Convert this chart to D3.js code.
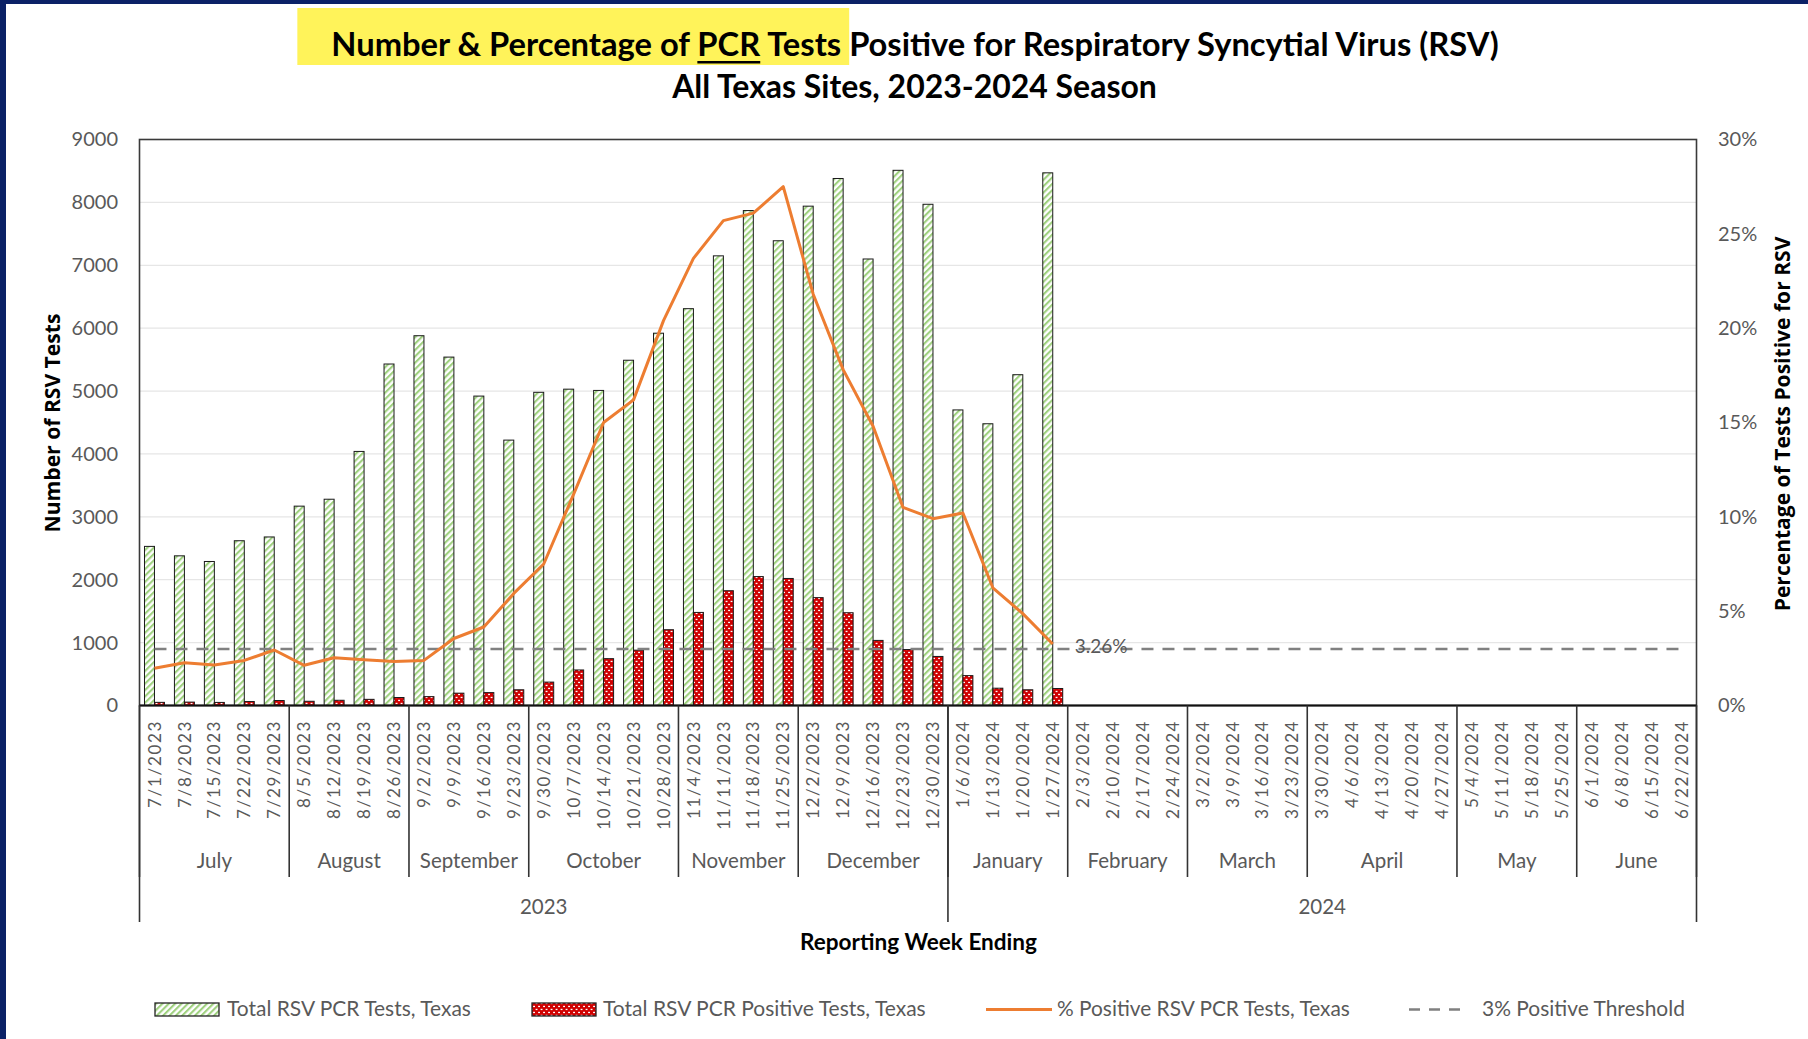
<!DOCTYPE html>
<html><head><meta charset="utf-8">
<script src="https://cdn.jsdelivr.net/npm/d3@7"></script>
<style>html,body{margin:0;padding:0;background:#fff;overflow:hidden;} svg{display:block;}</style>
</head><body>
<svg id="chart" width="1808" height="1039"></svg>
<script>
// ---------------- DATA ----------------
const weekLabels = [
  "7/1/2023","7/8/2023","7/15/2023","7/22/2023","7/29/2023",
  "8/5/2023","8/12/2023","8/19/2023","8/26/2023",
  "9/2/2023","9/9/2023","9/16/2023","9/23/2023",
  "9/30/2023","10/7/2023","10/14/2023","10/21/2023","10/28/2023",
  "11/4/2023","11/11/2023","11/18/2023","11/25/2023",
  "12/2/2023","12/9/2023","12/16/2023","12/23/2023","12/30/2023",
  "1/6/2024","1/13/2024","1/20/2024","1/27/2024",
  "2/3/2024","2/10/2024","2/17/2024","2/24/2024",
  "3/2/2024","3/9/2024","3/16/2024","3/23/2024",
  "3/30/2024","4/6/2024","4/13/2024","4/20/2024","4/27/2024",
  "5/4/2024","5/11/2024","5/18/2024","5/25/2024",
  "6/1/2024","6/8/2024","6/15/2024","6/22/2024"
];
const totalTests = [
  2530,2380,2290,2620,2680,
  3170,3280,4040,5430,
  5880,5540,4920,4220,
  4980,5030,5010,5490,5920,
  6310,7150,7870,7390,
  7940,8380,7100,8510,7970,
  4700,4480,5260,8470
];
const positiveTests = [
  50,54,49,63,79,
  67,83,98,127,
  141,196,205,250,
  372,565,745,880,1205,
  1480,1825,2050,2020,
  1715,1475,1035,890,780,
  475,275,250,270
];
const percentPositive = [
  1.97,2.27,2.15,2.39,2.94,
  2.13,2.53,2.43,2.33,
  2.39,3.55,4.16,5.94,
  7.5,11.2,15.0,16.2,20.4,
  23.7,25.7,26.1,27.5,
  21.8,17.8,14.8,10.5,9.9,
  10.2,6.24,4.87,3.26
];
const thresholdPct = 3;
const monthNames = ["July","August","September","October","November","December",
                    "January","February","March","April","May","June"];
const monthWeeks = [5,4,4,5,4,5,4,4,4,5,4,4];
const yearNames = ["2023","2024"];
const yearWeeks = [27,25];
const leftTicks = [0,1000,2000,3000,4000,5000,6000,7000,8000,9000];
const rightTicks = [0,5,10,15,20,25,30];
const legendLabels = ["Total RSV PCR Tests, Texas","Total RSV PCR Positive Tests, Texas",
                      "% Positive RSV PCR Tests, Texas","3% Positive Threshold"];
const titleLine1 = "Number & Percentage of PCR Tests Positive for Respiratory Syncytial Virus (RSV)";
const titleLine2 = "All Texas Sites, 2023-2024 Season";

// ---------------- LAYOUT ----------------
const svg = d3.select("#chart");
const L = 139.5, R = 1696.5, T = 139.5, B = 705.5;
const FONT = "Lato, 'Open Sans', sans-serif";
const GRAY = "#595959";

function fit(sel, width){
  const w = sel.node().getComputedTextLength();
  const fs = parseFloat(sel.attr("font-size"));
  sel.attr("font-size", fs * width / w);
  return sel;
}

// page frame (navy)
svg.append("rect").attr("x",0).attr("y",0).attr("width",1808).attr("height",1039).attr("fill","#fff");
svg.append("rect").attr("x",0).attr("y",0).attr("width",1808).attr("height",4).attr("fill","#0b2166");
svg.append("rect").attr("x",0).attr("y",0).attr("width",6).attr("height",1039).attr("fill","#0b2166");

// patterns
const defs = svg.append("defs");
const hatch = defs.append("pattern").attr("id","hatch").attr("patternUnits","userSpaceOnUse")
  .attr("width",4.5).attr("height",4.5).attr("patternTransform","rotate(45)");
hatch.append("rect").attr("width",4.5).attr("height",4.5).attr("fill","#ffffff");
hatch.append("rect").attr("x",0).attr("width",2.1).attr("height",4.5).attr("fill","#9fd17f");

const dots = defs.append("pattern").attr("id","dots").attr("patternUnits","userSpaceOnUse")
  .attr("width",5).attr("height",6);
dots.append("rect").attr("width",5).attr("height",6).attr("fill","#d00000");
dots.append("rect").attr("x",0.6).attr("y",0.8).attr("width",1.9).attr("height",1.3).attr("fill","#fff");
dots.append("rect").attr("x",3.1).attr("y",3.8).attr("width",1.9).attr("height",1.3).attr("fill","#fff");

// scales
const x = d3.scaleBand().domain(weekLabels).range([L, R]).paddingInner(0).paddingOuter(0);
const xs = d3.scaleBand().domain(["total","pos"]).range([0, x.bandwidth()]).paddingInner(0).paddingOuter(0.5);
const yL = d3.scaleLinear().domain([0, 9000]).range([B, T]);
const yR = d3.scaleLinear().domain([0, 30]).range([B, T]);
const cx = d => x(d) + x.bandwidth()/2;

// title
const titleG = svg.append("g");
const hl = titleG.append("rect").attr("fill","#fff35a");
const t1 = titleG.append("text").attr("x",915).attr("y",56).attr("text-anchor","middle")
  .attr("font-family",FONT).attr("font-weight",700).attr("font-size",30).attr("fill","#000").text(titleLine1);
fit(t1, 1168);
const t2 = titleG.append("text").attr("x",914.5).attr("y",98).attr("text-anchor","middle")
  .attr("font-family",FONT).attr("font-weight",700).attr("font-size",30).attr("fill","#000").text(titleLine2);
fit(t2, 485);
{
  const n = t1.node();
  const e0 = n.getExtentOfChar(0);
  const eT = n.getExtentOfChar(31);
  hl.attr("x", e0.x - 34).attr("y", 8).attr("width", (eT.x + eT.width + 8) - (e0.x - 34)).attr("height", 57);
  const p0 = n.getExtentOfChar(23), p2 = n.getExtentOfChar(25);
  titleG.append("rect").attr("x", p0.x).attr("y", 61).attr("width", p2.x + p2.width - p0.x).attr("height", 2.5).attr("fill","#000");
}

// gridlines
svg.append("g").selectAll("line").data(leftTicks.filter(d => d > 0 && d < 9000)).join("line")
  .attr("x1",L).attr("x2",R).attr("y1",d => yL(d)).attr("y2",d => yL(d))
  .attr("stroke","#e6e6e6").attr("stroke-width",1.2);

// left axis
const axL = svg.append("g").attr("transform",`translate(${L},0)`)
  .call(d3.axisLeft(yL).tickValues(leftTicks).tickSize(0).tickPadding(21.5).tickFormat(d3.format("d")));
axL.select(".domain").remove();
axL.selectAll("text").attr("font-family",FONT).attr("font-size",20).attr("fill",GRAY);

// right axis
const axR = svg.append("g").attr("transform",`translate(${R},0)`)
  .call(d3.axisRight(yR).tickValues(rightTicks).tickSize(0).tickPadding(21.5).tickFormat(d => d + "%"));
axR.select(".domain").remove();
axR.selectAll("text").attr("font-family",FONT).attr("font-size",20).attr("fill",GRAY);

// bars
const barData = totalTests.map((v,i) => ({week: weekLabels[i], total: v, pos: positiveTests[i]}));
svg.append("g").selectAll("rect").data(barData).join("rect")
  .attr("x", d => x(d.week) + xs("total")).attr("width", xs.bandwidth())
  .attr("y", d => yL(d.total)).attr("height", d => B - yL(d.total))
  .attr("fill","url(#hatch)").attr("stroke","#1a1a1a").attr("stroke-width",1);
svg.append("g").selectAll("rect").data(barData).join("rect")
  .attr("x", d => x(d.week) + xs("pos")).attr("width", xs.bandwidth())
  .attr("y", d => yL(d.pos)).attr("height", d => B - yL(d.pos))
  .attr("fill","url(#dots)").attr("stroke","#1a1a1a").attr("stroke-width",1);

// threshold dashed line
const thrLine = d3.line().x(d => cx(d)).y(() => yR(thresholdPct));
svg.append("path").datum(weekLabels).attr("d", thrLine)
  .attr("fill","none").attr("stroke","#808080").attr("stroke-width",2.5).attr("stroke-dasharray","12,9");

// percent line
const pctData = percentPositive.map((v,i) => ({week: weekLabels[i], v}));
svg.append("path").datum(pctData)
  .attr("d", d3.line().x(d => cx(d.week)).y(d => yR(d.v)))
  .attr("fill","none").attr("stroke","#ed7d31").attr("stroke-width",3).attr("stroke-linejoin","round");

// last point label
const last = pctData[pctData.length-1];
svg.append("text").attr("x", cx(last.week) + 22).attr("y", yR(last.v) + 1.5)
  .attr("dominant-baseline","central").attr("font-family",FONT).attr("font-size",19).attr("fill",GRAY)
  .text(last.v.toFixed(2) + "%");

// plot frame
svg.append("rect").attr("x",L).attr("y",T).attr("width",R-L).attr("height",B-T)
  .attr("fill","none").attr("stroke","#3a3a3a").attr("stroke-width",1.6);
svg.append("line").attr("x1",L).attr("x2",R).attr("y1",B).attr("y2",B).attr("stroke","#111").attr("stroke-width",2);

// bottom axis (week labels)
const axB = svg.append("g").attr("transform",`translate(0,${B})`)
  .call(d3.axisBottom(x).tickSize(0).tickPadding(0));
axB.select(".domain").remove();
axB.selectAll("text")
  .attr("transform","rotate(-90)")
  .attr("x",-16).attr("y",0).attr("dy","0.36em")
  .attr("text-anchor","end")
  .attr("font-family",FONT).attr("font-size",17).attr("fill",GRAY)
  .attr("textLength", d => 10.82 * d.length).attr("lengthAdjust","spacing");

// month & year separators / labels
const step = x.step();
const monthBounds = [0]; monthWeeks.forEach(n => monthBounds.push(monthBounds[monthBounds.length-1] + n));
const yearBounds = [0]; yearWeeks.forEach(n => yearBounds.push(yearBounds[yearBounds.length-1] + n));
const sepG = svg.append("g").attr("stroke","#333").attr("stroke-width",1.6);
sepG.selectAll("line.m").data(monthBounds).join("line").attr("class","m")
  .attr("x1", d => L + d*step).attr("x2", d => L + d*step).attr("y1", B).attr("y2", 877);
sepG.selectAll("line.y").data(yearBounds).join("line").attr("class","y")
  .attr("x1", d => L + d*step).attr("x2", d => L + d*step).attr("y1", B).attr("y2", 922);

svg.append("g").selectAll("text").data(monthNames).join("text")
  .attr("x", (d,i) => L + (monthBounds[i] + monthBounds[i+1]) / 2 * step)
  .attr("y", 868).attr("text-anchor","middle")
  .attr("font-family",FONT).attr("font-size",20.5).attr("fill",GRAY).text(d => d);
svg.append("g").selectAll("text").data(yearNames).join("text")
  .attr("x", (d,i) => L + (yearBounds[i] + yearBounds[i+1]) / 2 * step)
  .attr("y", 914).attr("text-anchor","middle")
  .attr("font-family",FONT).attr("font-size",20.5).attr("fill",GRAY).text(d => d);

// axis titles
const xt = svg.append("text").attr("x",918.5).attr("y",950).attr("text-anchor","middle")
  .attr("font-family",FONT).attr("font-weight",700).attr("font-size",22).attr("fill","#000")
  .text("Reporting Week Ending");
fit(xt, 237);
const ylt = svg.append("text").attr("transform","translate(51,423) rotate(-90)")
  .attr("text-anchor","middle").attr("dominant-baseline","central")
  .attr("font-family","'Open Sans', sans-serif").attr("font-weight",700).attr("font-size",19).attr("fill","#000")
  .text("Number of RSV Tests");
fit(ylt, 219);
const yrt = svg.append("text").attr("transform","translate(1781,424) rotate(-90)")
  .attr("text-anchor","middle").attr("dominant-baseline","central")
  .attr("font-family","'Open Sans', sans-serif").attr("font-weight",700).attr("font-size",19).attr("fill","#000")
  .text("Percentage of Tests Positive for RSV");
fit(yrt, 375);

// legend
const lg = svg.append("g");
lg.append("rect").attr("x",155).attr("y",1003).attr("width",64).attr("height",13)
  .attr("fill","url(#hatch)").attr("stroke","#222").attr("stroke-width",1.3);
lg.append("rect").attr("x",532).attr("y",1003).attr("width",64).attr("height",13)
  .attr("fill","url(#dots)").attr("stroke","#222").attr("stroke-width",1.3);
lg.append("line").attr("x1",986).attr("x2",1052).attr("y1",1009.5).attr("y2",1009.5)
  .attr("stroke","#ed7d31").attr("stroke-width",3);
lg.append("line").attr("x1",1409).attr("x2",1468).attr("y1",1009.5).attr("y2",1009.5)
  .attr("stroke","#808080").attr("stroke-width",2.5).attr("stroke-dasharray","11,9");
const legX = [227, 603, 1057, 1482];
const legW = [244, 323, 293, 203];
legendLabels.forEach((s,i) => {
  const t = lg.append("text").attr("x",legX[i]).attr("y",1016)
    .attr("font-family",FONT).attr("font-size",20).attr("fill",GRAY).text(s);
  fit(t, legW[i]);
});
</script>
</body></html>
